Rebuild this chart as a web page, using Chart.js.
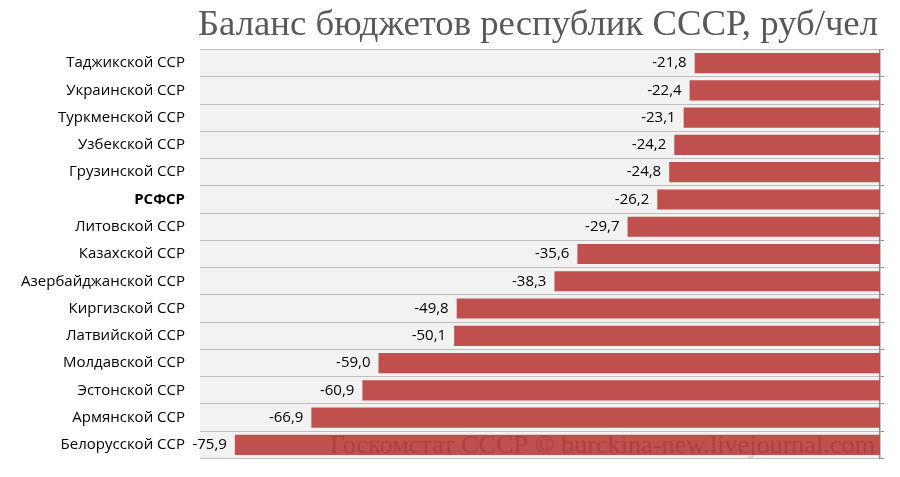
<!DOCTYPE html>
<html>
<head>
<meta charset="utf-8">
<script src="https://cdn.jsdelivr.net/npm/chart.js@4"></script>
<style>
  html, body { margin: 0; padding: 0; background: #fff; }
  #wrap { width: 900px; height: 477px; }
</style>
</head>
<body>
<div id="wrap"><canvas id="myChart" width="900" height="477"></canvas></div>
<script>
const republics = ['Таджикской ССР', 'Украинской ССР', 'Туркменской ССР', 'Узбекской ССР', 'Грузинской ССР',
  'РСФСР', 'Литовской ССР', 'Казахской ССР', 'Азербайджанской ССР', 'Киргизской ССР',
  'Латвийской ССР', 'Молдавской ССР', 'Эстонской ССР', 'Армянской ССР', 'Белорусской ССР'];
const balance = [-21.8, -22.4, -23.1, -24.2, -24.8, -26.2, -29.7, -35.6, -38.3, -49.8, -50.1, -59.0, -60.9, -66.9, -75.9];
const titleText = 'Баланс бюджетов республик СССР, руб/чел';
const sourceText = 'Госкомстат СССР © burckina-new.livejournal.com';

// фон области графика
const bgPlugin = {
  id: 'bg',
  beforeDraw(chart) {
    const a = chart.chartArea, c = chart.ctx;
    c.save();
    c.fillStyle = '#f2f2f2';
    c.fillRect(a.left, a.top, a.right - a.left, a.bottom - a.top);
    c.restore();
  }
};

// подписи значений слева от столбцов
const labelPlugin = {
  id: 'vals',
  afterDatasetsDraw(chart) {
    const c = chart.ctx;
    const meta = chart.getDatasetMeta(0);
    c.save();
    c.font = '15px "Open Sans"';
    c.fillStyle = '#000';
    c.textAlign = 'right';
    c.textBaseline = 'middle';
    meta.data.forEach((bar, i) => {
      c.fillText(balance[i].toFixed(1).replace('.', ','), bar.x - 8, bar.y);
    });
    c.restore();
  }
};

// заголовок и источник
const textPlugin = {
  id: 'texts',
  afterDraw(chart) {
    const c = chart.ctx;
    const fitText = (txt, font, color, right, base, width) => {
      c.save();
      c.font = font;
      c.fillStyle = color;
      const w = c.measureText(txt).width;
      c.translate(right - width, base);
      c.scale(width / w, 1);
      c.fillText(txt, 0, 0);
      c.restore();
    };
    fitText(titleText, '35px "Liberation Serif"', '#595959', 878, 35, 680);
    const last = chart.getDatasetMeta(0).data[balance.length - 1];
    fitText(sourceText, '25px "Liberation Serif"', 'rgba(90,0,0,0.2)', 875, last.y + 8, 545);
  }
};

new Chart(document.getElementById('myChart'), {
  type: 'bar',
  data: {
    labels: republics,
    datasets: [{
      data: balance,
      backgroundColor: '#c0504d',
      borderWidth: 0,
      categoryPercentage: 1,
      barPercentage: 0.74
    }]
  },
  options: {
    indexAxis: 'y',
    responsive: false,
    animation: false,
    layout: { padding: { top: 49.5, bottom: 18.5, left: 0, right: 16 } },
    plugins: { legend: { display: false }, tooltip: { enabled: false } },
    scales: {
      x: {
        display: false,
        min: -80, max: 0
      },
      y: {
        ticks: {
          color: '#000',
          padding: 15,
          font: (ctx) => ({ family: '"Open Sans"', size: 15, weight: ctx.index === 5 ? 'bold' : 'normal' })
        },
        grid: { color: '#bfbfbf', drawTicks: false },
        border: { display: false },
        afterFit(scale) {
          scale.width = 200;
          scale.paddingTop = 0;
          scale.paddingBottom = 0;
        }
      },
      y2: {
        position: 'right',
        type: 'category',
        labels: republics,
        offset: true,
        ticks: { display: false },
        grid: { drawOnChartArea: false, color: '#8c8c8c', tickLength: 4, offset: true },
        border: { display: true, color: '#8c8c8c', width: 1.5 }
      }
    }
  },
  plugins: [bgPlugin, labelPlugin, textPlugin]
});
</script>
</body>
</html>
